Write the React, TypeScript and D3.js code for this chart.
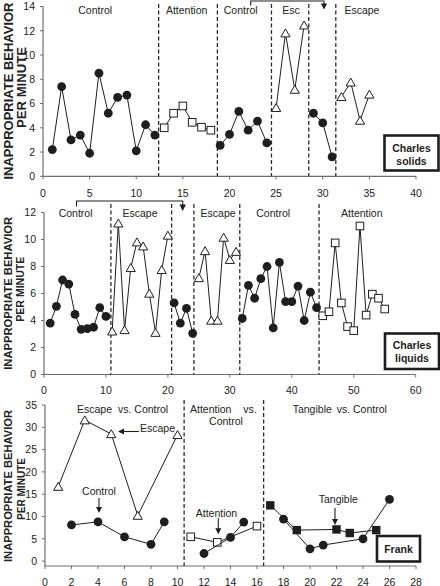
import React from "react";
import * as d3 from "d3";

// ---------- Panel 1: Charles solids ----------
const solidsCtrl1X = [1, 2, 3, 4, 5, 6, 7, 8, 9, 10, 11, 12];
const solidsCtrl1Y = [2.2, 7.4, 3.0, 3.4, 1.9, 8.5, 5.2, 6.5, 6.7, 2.1, 4.25, 3.4];
const solidsAttnX = [13, 14, 15, 16, 17, 18];
const solidsAttnY = [4.0, 5.2, 5.8, 4.45, 4.05, 3.8];
const solidsCtrl2X = [19, 20, 21, 22, 23, 24];
const solidsCtrl2Y = [2.55, 3.45, 5.35, 3.8, 4.55, 2.75];
const solidsEsc1X = [25, 26, 27, 28];
const solidsEsc1Y = [5.65, 11.8, 7.15, 12.45];
const solidsCtrl3X = [29, 30, 31];
const solidsCtrl3Y = [5.2, 4.4, 1.6];
const solidsEsc2X = [32, 33, 34, 35];
const solidsEsc2Y = [6.55, 7.75, 4.6, 6.75];
const solidsXTicks = [0, 5, 10, 15, 20, 25, 30, 35, 40];
const solidsYTicks = [0, 2, 4, 6, 8, 10, 12, 14];
const solidsDividers = [12.4, 18.7, 24.5, 28.5, 31.4];
const solidsPhaseLabels = ["Control", "Attention", "Control", "Esc", "Escape"];
const solidsPhaseAt = [5.6, 15.4, 21.2, 26.6, 34.2];

// ---------- Panel 2: Charles liquids ----------
const liqCtrl1X = [1, 2, 3, 4, 5, 6, 7, 8, 9, 10];
const liqCtrl1Y = [3.8, 5.05, 7.0, 6.7, 4.45, 3.35, 3.4, 3.5, 4.95, 4.3];
const liqEsc1X = [11, 12, 13, 14, 15, 16, 17, 18, 19, 20];
const liqEsc1Y = [3.2, 11.2, 3.3, 7.9, 9.8, 9.5, 6.0, 3.1, 7.75, 10.3];
const liqCtrl2X = [21, 22, 23, 24];
const liqCtrl2Y = [5.3, 3.8, 4.9, 3.05];
const liqEsc2X = [25, 26, 27, 28, 29, 30, 31];
const liqEsc2Y = [7.15, 9.15, 4.0, 4.0, 10.15, 8.5, 9.1];
const liqCtrl3X = [32, 33, 34, 35, 36, 37, 38, 39, 40, 41, 42, 43, 44];
const liqCtrl3Y = [4.15, 6.6, 5.65, 7.1, 8.0, 3.45, 8.3, 5.4, 5.4, 6.55, 4.0, 6.1, 4.95];
const liqAttnX = [45, 46, 47, 48, 49, 50, 51, 52, 53, 54, 55];
const liqAttnY = [4.35, 4.65, 9.75, 5.3, 3.55, 3.25, 11.0, 4.4, 5.95, 5.65, 4.85];
const liqXTicks = [0, 10, 20, 30, 40, 50, 60];
const liqYTicks = [0, 2, 4, 6, 8, 10, 12];
const liqDividers = [10.8, 20.6, 24.2, 31.6, 44.4];
const liqPhaseLabels = ["Control", "Escape", "Escape", "Control", "Attention"];
const liqPhaseAt = [5.1, 15.5, 28.1, 37.0, 51.3];

// ---------- Panel 3: Frank ----------
const frankEscX = [1, 3, 5, 7, 10];
const frankEscY = [16.7, 31.6, 28.5, 10.2, 28.3];
const frankCtrl1X = [2, 4, 6, 8, 9];
const frankCtrl1Y = [8.1, 8.8, 5.45, 3.75, 8.8];
const frankAttnX = [11, 13, 16];
const frankAttnY = [5.45, 4.2, 7.85];
const frankCtrl2X = [12, 14, 15];
const frankCtrl2Y = [1.7, 5.3, 8.75];
const frankTangX = [17, 19, 22, 23, 25];
const frankTangY = [12.5, 6.95, 7.1, 6.3, 6.95];
const frankCtrl3X = [18, 20, 21, 24, 26];
const frankCtrl3Y = [9.4, 2.75, 3.6, 5.0, 13.85];
const frankXTicks = [0, 2, 4, 6, 8, 10, 12, 14, 16, 18, 20, 22, 24, 26, 28];
const frankYTicks = [0, 5, 10, 15, 20, 25, 30, 35];
const frankDividers = [10.5, 16.5];

const FONT = "'Liberation Sans', Arial, Helvetica, sans-serif";
const INK = "#1e1e1e";
const AXIS = "#6e6e6e";

type Marker = "circle" | "square" | "triangle" | "fsquare";
type Scale = d3.ScaleLinear<number, number>;

function MarkerShape({ m, x, y }: { m: Marker; x: number; y: number }) {
  if (m === "circle") return <circle cx={x} cy={y} r={4.4} fill={INK} />;
  if (m === "square")
    return <rect x={x - 3.8} y={y - 3.8} width={7.6} height={7.6} fill="#fff" stroke={INK} strokeWidth={1} />;
  if (m === "fsquare")
    return <rect x={x - 4.2} y={y - 4.2} width={8.4} height={8.4} fill={INK} />;
  return (
    <path
      d={`M${x},${y - 4.3}L${x + 4.6},${y + 3.7}L${x - 4.6},${y + 3.7}Z`}
      fill="#fff"
      stroke={INK}
      strokeWidth={1}
    />
  );
}

function Series({ xs, ys, m, sx, sy }: { xs: number[]; ys: number[]; m: Marker; sx: Scale; sy: Scale }) {
  const pts: [number, number][] = xs.map((x, i) => [sx(x), sy(ys[i])]);
  const line = d3.line()(pts) || "";
  return (
    <g>
      <path d={line} fill="none" stroke={INK} strokeWidth={1} />
      {pts.map((p, i) => (
        <MarkerShape key={i} m={m} x={p[0]} y={p[1]} />
      ))}
    </g>
  );
}

function Axes({
  sx, sy, xTicks, yTicks, axisY, topY, labelY,
}: {
  sx: Scale; sy: Scale; xTicks: number[]; yTicks: number[]; axisY: number; topY: number; labelY: number;
}) {
  const x0 = sx.range()[0];
  const x1 = sx.range()[1];
  return (
    <g fontFamily={FONT} fontSize={10.5} fill="#222">
      <line x1={x0} x2={x1} y1={axisY} y2={axisY} stroke={AXIS} strokeWidth={1.2} />
      <line x1={x0} x2={x0} y1={topY} y2={axisY} stroke={AXIS} strokeWidth={1.2} />
      {xTicks.map((t) => (
        <g key={"x" + t}>
          <line x1={sx(t)} x2={sx(t)} y1={axisY} y2={axisY + 3} stroke={AXIS} strokeWidth={1} />
          <text x={sx(t)} y={labelY} textAnchor="middle">{t}</text>
        </g>
      ))}
      {yTicks.map((t) => (
        <g key={"y" + t}>
          <line x1={x0 - 3} x2={x0} y1={sy(t)} y2={sy(t)} stroke={AXIS} strokeWidth={1} />
          <text x={x0 - 8} y={sy(t) + 3.8} textAnchor="end">{t}</text>
        </g>
      ))}
    </g>
  );
}

function Dividers({ sx, xs, y1, y2 }: { sx: Scale; xs: number[]; y1: number; y2: number }) {
  return (
    <g>
      {xs.map((d, i) => (
        <line key={i} x1={sx(d)} x2={sx(d)} y1={y1} y2={y2} stroke="#2a2a2a" strokeWidth={1.3} strokeDasharray="4,2.5" />
      ))}
    </g>
  );
}

function YTitle({ x1, x2, c1, c2, fs, l1, l2 }: { x1: number; x2: number; c1: number; c2: number; fs: number; l1: number; l2: number }) {
  return (
    <g fontFamily={FONT} fontWeight="bold" fontSize={fs} fill="#222">
      <text transform={`translate(${x1},${c1}) rotate(-90)`} textAnchor="middle" textLength={l1} lengthAdjust="spacingAndGlyphs">
        INAPPROPRIATE BEHAVIOR
      </text>
      <text transform={`translate(${x2},${c2}) rotate(-90)`} textAnchor="middle" textLength={l2} lengthAdjust="spacingAndGlyphs">
        PER MINUTE
      </text>
    </g>
  );
}

function Box({ x, y, w, h, lines, baselines }: { x: number; y: number; w: number; h: number; lines: string[]; baselines: number[] }) {
  return (
    <g>
      <rect x={x} y={y} width={w} height={h} fill="#fff" stroke={INK} strokeWidth={2.6} />
      {lines.map((s, i) => (
        <text key={i} x={x + w / 2} y={baselines[i]} textAnchor="middle" fontFamily={FONT} fontWeight="bold" fontSize={10.5} fill="#222">
          {s}
        </text>
      ))}
    </g>
  );
}

function ArrowDown({ x, y1, y2 }: { x: number; y1: number; y2: number }) {
  return (
    <g>
      <line x1={x} x2={x} y1={y1} y2={y2 - 5} stroke={INK} strokeWidth={1.1} />
      <path d={`M${x - 3},${y2 - 6}L${x + 3},${y2 - 6}L${x},${y2}Z`} fill={INK} />
    </g>
  );
}

export default function App() {
  // scales
  const sx1 = d3.scaleLinear().domain([0, 40]).range([43, 416]);
  const sy1 = d3.scaleLinear().domain([0, 14]).range([176.3, 6.5]);
  const sx2 = d3.scaleLinear().domain([0, 60]).range([44, 415.7]);
  const sy2 = d3.scaleLinear().domain([0, 12]).range([374.5, 212.5]);
  const sx3 = d3.scaleLinear().domain([0, 28]).range([45, 416]);
  const sy3 = d3.scaleLinear().domain([-1.1, 35]).range([566, 405]);

  return (
    <svg width={440} height={586} style={{ position: "absolute", left: 0, top: 0, background: "#fff" }}>
      <rect x={0} y={0} width={440} height={586} fill="#fff" />

      {/* ---------- Panel 1 ---------- */}
      <YTitle x1={12.8} x2={26.2} c1={91} c2={87.5} fs={13} l1={177} l2={81} />
      <Axes sx={sx1} sy={sy1} xTicks={solidsXTicks} yTicks={solidsYTicks} axisY={sy1(0)} topY={sy1(14)} labelY={197.3} />
      <Dividers sx={sx1} xs={solidsDividers} y1={4} y2={sy1(0)} />
      <g fontFamily={FONT} fontSize={10.5} fill="#222" textAnchor="middle">
        {solidsPhaseLabels.map((s, i) => (
          <text key={i} x={sx1(solidsPhaseAt[i])} y={14}>{s}</text>
        ))}
      </g>
      <path d="M250.7,5.5V1H324V4" fill="none" stroke={INK} strokeWidth={1.1} />
      <path d="M320.8,3.5L327.2,3.5L324,9.5Z" fill={INK} />
      <Series xs={solidsCtrl1X} ys={solidsCtrl1Y} m="circle" sx={sx1} sy={sy1} />
      <Series xs={solidsAttnX} ys={solidsAttnY} m="square" sx={sx1} sy={sy1} />
      <Series xs={solidsCtrl2X} ys={solidsCtrl2Y} m="circle" sx={sx1} sy={sy1} />
      <Series xs={solidsEsc1X} ys={solidsEsc1Y} m="triangle" sx={sx1} sy={sy1} />
      <Series xs={solidsCtrl3X} ys={solidsCtrl3Y} m="circle" sx={sx1} sy={sy1} />
      <Series xs={solidsEsc2X} ys={solidsEsc2Y} m="triangle" sx={sx1} sy={sy1} />
      <Box x={384.5} y={135.5} w={54} h={35} lines={["Charles", "solids"]} baselines={[152, 165]} />

      {/* ---------- Panel 2 ---------- */}
      <YTitle x1={12.3} x2={24} c1={293.3} c2={289.2} fs={11} l1={153} l2={65} />
      <Axes sx={sx2} sy={sy2} xTicks={liqXTicks} yTicks={liqYTicks} axisY={sy2(0)} topY={sy2(12)} labelY={394} />
      <Dividers sx={sx2} xs={liqDividers} y1={204} y2={sy2(0)} />
      <g fontFamily={FONT} fontSize={10.5} fill="#222" textAnchor="middle">
        {liqPhaseLabels.map((s, i) => (
          <text key={i} x={sx2(liqPhaseAt[i])} y={217}>{s}</text>
        ))}
      </g>
      <path d="M76.5,206.5V201H182.7V205" fill="none" stroke={INK} strokeWidth={1.1} />
      <path d="M179.5,204.5L185.9,204.5L182.7,211Z" fill={INK} />
      <Series xs={liqCtrl1X} ys={liqCtrl1Y} m="circle" sx={sx2} sy={sy2} />
      <Series xs={liqEsc1X} ys={liqEsc1Y} m="triangle" sx={sx2} sy={sy2} />
      <Series xs={liqCtrl2X} ys={liqCtrl2Y} m="circle" sx={sx2} sy={sy2} />
      <Series xs={liqEsc2X} ys={liqEsc2Y} m="triangle" sx={sx2} sy={sy2} />
      <Series xs={liqCtrl3X} ys={liqCtrl3Y} m="circle" sx={sx2} sy={sy2} />
      <Series xs={liqAttnX} ys={liqAttnY} m="square" sx={sx2} sy={sy2} />
      <Box x={385} y={333.5} w={54} h={35.5} lines={["Charles", "liquids"]} baselines={[349, 361.5]} />

      {/* ---------- Panel 3 ---------- */}
      <YTitle x1={12.3} x2={24.7} c1={486} c2={489} fs={11} l1={152} l2={62} />
      <Axes sx={sx3} sy={sy3} xTicks={frankXTicks} yTicks={frankYTicks} axisY={566} topY={sy3(35)} labelY={585.5} />
      <Dividers sx={sx3} xs={frankDividers} y1={400} y2={566} />
      <g fontFamily={FONT} fontSize={10.5} fill="#222">
        <text x={77} y={413}>Escape</text>
        <text x={118} y={413}>vs. Control</text>
        <text x={190} y={413}>Attention</text>
        <text x={243.3} y={413}>vs.</text>
        <text x={226} y={425} textAnchor="middle">Control</text>
        <text x={292.7} y={413}>Tangible</text>
        <text x={336.7} y={413}>vs. Control</text>
        <text x={140} y={432}>Escape</text>
        <text x={99} y={495} textAnchor="middle">Control</text>
        <text x={216.5} y={517} textAnchor="middle">Attention</text>
        <text x={338.3} y={503} textAnchor="middle">Tangible</text>
      </g>
      <line x1={139} x2={123} y1={431.5} y2={431.5} stroke={INK} strokeWidth={1.1} />
      <path d="M124,428.5L124,434.5L118,431.5Z" fill={INK} />
      <ArrowDown x={99} y1={498} y2={513} />
      <ArrowDown x={218.3} y1={518} y2={534.3} />
      <ArrowDown x={335} y1={508} y2={525} />
      <Series xs={frankEscX} ys={frankEscY} m="triangle" sx={sx3} sy={sy3} />
      <Series xs={frankCtrl1X} ys={frankCtrl1Y} m="circle" sx={sx3} sy={sy3} />
      <Series xs={frankAttnX} ys={frankAttnY} m="square" sx={sx3} sy={sy3} />
      <Series xs={frankCtrl2X} ys={frankCtrl2Y} m="circle" sx={sx3} sy={sy3} />
      <Series xs={frankTangX} ys={frankTangY} m="fsquare" sx={sx3} sy={sy3} />
      <Series xs={frankCtrl3X} ys={frankCtrl3Y} m="circle" sx={sx3} sy={sy3} />
      <Box x={377} y={536} w={43} h={25.5} lines={["Frank"]} baselines={[552.5]} />
    </svg>
  );
}
